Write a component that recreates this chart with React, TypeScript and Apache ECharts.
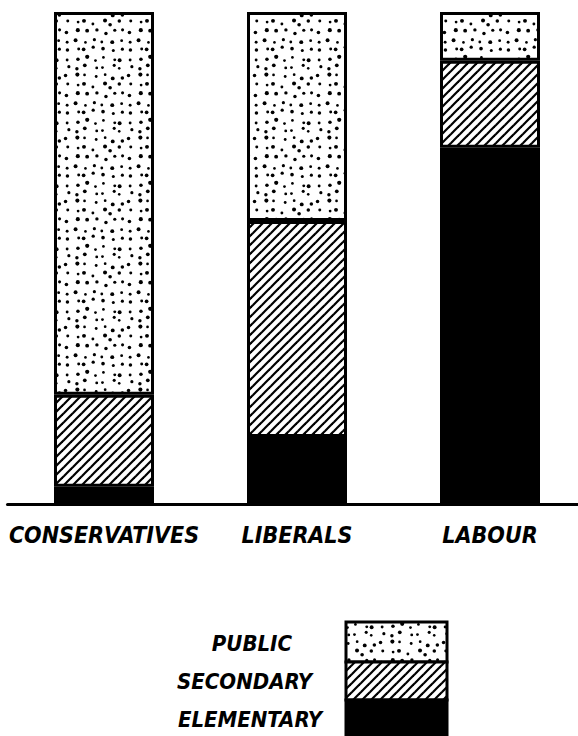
import React, { useEffect, useRef } from "react";
import * as echarts from "echarts";

const categories = ["CONSERVATIVES", "LIBERALS", "LABOUR"];
const seriesNames = ["ELEMENTARY", "SECONDARY", "PUBLIC"];
const elementary = [3.5, 13.6, 72.4];
const secondary = [18.7, 43.9, 17.7];
const publicSchool = [77.8, 42.5, 9.9];
const legendLabels = ["PUBLIC", "SECONDARY", "ELEMENTARY"];

const FONT = "'DejaVu Sans Condensed', 'DejaVu Sans', sans-serif";

function makeDots() {
  const size = 63;
  const c = document.createElement("canvas");
  c.width = size;
  c.height = size;
  const ctx = c.getContext("2d")!;
  ctx.fillStyle = "#fff";
  ctx.fillRect(0, 0, size, size);
  ctx.fillStyle = "#000";
  let s = 98765;
  const rnd = () => {
    s = (s * 16807) % 2147483647;
    return s / 2147483647;
  };
  const cell = 9;
  for (let gy = 0; gy < size / cell; gy++) {
    for (let gx = 0; gx < size / cell; gx++) {
      const x = gx * cell + 2 + rnd() * 5;
      const y = gy * cell + 2 + rnd() * 5;
      const r = 1.3 + rnd() * 0.8;
      ctx.beginPath();
      ctx.arc(x, y, r, 0, Math.PI * 2);
      ctx.fill();
    }
  }
  return { image: c.toDataURL(), repeat: "repeat", imageWidth: size, imageHeight: size };
}

function makeHatch() {
  const size = 9;
  const c = document.createElement("canvas");
  c.width = size;
  c.height = size;
  const ctx = c.getContext("2d")!;
  ctx.fillStyle = "#fff";
  ctx.fillRect(0, 0, size, size);
  ctx.strokeStyle = "#000";
  ctx.lineWidth = 2.2;
  ctx.lineCap = "square";
  for (const k of [0, size, size * 2]) {
    ctx.beginPath();
    ctx.moveTo(k - size - 1, size + 1);
    ctx.lineTo(k + 1, -1);
    ctx.stroke();
  }
  return { image: c.toDataURL(), repeat: "repeat", imageWidth: size, imageHeight: size };
}

export default function App() {
  const ref = useRef<HTMLDivElement>(null);
  useEffect(() => {
    if (!ref.current) return;
    const chart = echarts.init(ref.current, undefined, { renderer: "svg" });
    const dots = makeDots();
    const hatch = makeHatch();
    const fills = ["#000", hatch, dots];
    const values = [elementary, secondary, publicSchool];
    const border = { borderColor: "#000", borderWidth: 3 };
    const textStyle = {
      fontFamily: FONT,
      fontStyle: "italic",
      fontWeight: "bold",
      fontSize: 22,
      fill: "#000",
    };
    const legendX = [292, 312, 322];
    const legendY = [643, 681, 719];
    const boxY = [622, 662, 700];
    const boxH = [40, 38, 46];
    const boxFills = [dots, hatch, "#000"];
    chart.setOption({
      animation: false,
      backgroundColor: "#fff",
      grid: { left: 7.5, width: 579, top: 12, height: 492 },
      xAxis: {
        type: "category",
        data: categories,
        axisLine: { lineStyle: { color: "#000", width: 3 } },
        axisTick: { show: false },
        axisLabel: {
          interval: 0,
          color: "#000",
          fontFamily: FONT,
          fontStyle: "italic",
          fontWeight: "bold",
          fontSize: 23,
          margin: 19,
        },
      },
      yAxis: { type: "value", min: 0, max: 100, show: false, splitLine: { show: false } },
      series: seriesNames.map((name, i) => ({
        name,
        type: "bar",
        stack: "total",
        barWidth: 100,
        data: values[i],
        itemStyle: { color: fills[i], ...border },
      })),
      graphic: [
        ...legendLabels.map((t, i) => ({
          type: "text",
          x: legendX[i],
          y: legendY[i],
          style: { ...textStyle, text: t, textAlign: "right", textVerticalAlign: "middle" },
        })),
        ...legendLabels.map((t, i) => ({
          type: "rect",
          shape: { x: 346, y: boxY[i], width: 101, height: boxH[i] },
          style: { fill: boxFills[i], stroke: "#000", lineWidth: 3 },
        })),
      ],
    });
    return () => chart.dispose();
  }, []);
  return (
    <div style={{ position: "absolute", left: 0, top: 0, width: 578, height: 736, overflow: "hidden" }}>
      <div ref={ref} style={{ width: 600, height: 736 }} />
    </div>
  );
}
